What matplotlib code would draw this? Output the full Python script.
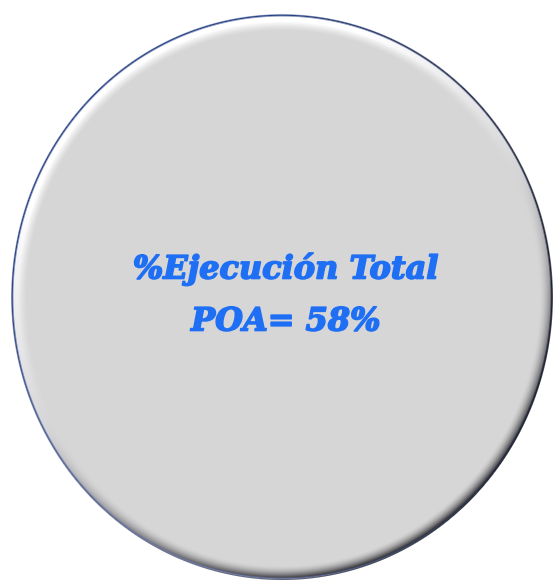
import numpy as np
import matplotlib.pyplot as plt
import matplotlib.patheffects as pe

# text shown in the badge
title_line = "%Ejecución Total"
value_label = "POA="
value_pct = 58

W, H = 553, 581
fig = plt.figure(figsize=(W / 100, H / 100), dpi=100)
ax = fig.add_axes([0, 0, 1, 1])
ax.set_xlim(0, W)
ax.set_ylim(H, 0)
ax.axis('off')

# ellipse geometry (pixels)
cx, cy, rx, ry = 282, 297, 271, 283

#build a beveled disc as an image
yy, xx = np.mgrid[0:H, 0:W] + 0.5
dx = (xx - cx) / rx
dy = (yy - cy) / ry
r = np.sqrt(dx**2 + dy**2)
d = (1 - r) * min(rx, ry)          # approx distance to edge in px

nx, ny = dx / rx, dy / ry
nn = np.sqrt(nx**2 + ny**2) + 1e-9
nx, ny = nx / nn, ny / nn
shade = (-nx * 0.45 - ny * 0.9)    # light from top, slightly left

base = 0.84
# highlight: plateau then fade; shadow: smooth falloff
f_hi = np.clip(1 - (d - 7) / 9, 0, 1) ** 1.3
f_lo = np.clip(1 - (d - 2) / 12, 0, 1) ** 1.8
val = np.where(shade > 0,
               base + f_hi * np.clip(shade * 1.4, 0, 1) * (1 - base),
               base + f_lo * shade * base * 0.8)
val = np.clip(val, 0, 1)

img = np.ones((H, W, 4))
img[..., 0] = val
img[..., 1] = val
img[..., 2] = val + f_lo * 0.02
img[..., 3] = np.clip(d + 0.5, 0, 1)

# rim: navy at top/left, near black at right, pale blue-grey at bottom
rim = np.clip(1 - np.abs(d - 1.2) / 1.7, 0, 1)
top_col = np.array([0.14, 0.24, 0.50])
right_col = np.array([0.10, 0.12, 0.18])
bot_col = np.array([0.45, 0.50, 0.66])
wr = np.clip(nx, 0, 1)[..., None]
wb = np.clip(ny, 0, 1)[..., None] * (1 - wr)
rim_col = top_col * (1 - wr - wb) + right_col * wr + bot_col * wb
for k in range(3):
    img[..., k] = img[..., k] * (1 - rim) + rim_col[..., k] * rim
img[..., :3] = np.clip(img[..., :3], 0, 1)

ax.imshow(img, extent=(0, W, H, 0), interpolation='bilinear', zorder=1)

blue = '#1f6ff5'
txt = dict(ha='center', va='center', color=blue, fontsize=23,
           family='DejaVu Serif', weight='bold', style='italic', zorder=3,
           path_effects=[pe.withStroke(linewidth=1.2, foreground=blue)])
ax.text(286, 269, title_line, **txt)
ax.text(286, 322, f"{value_label} {value_pct}%", **txt)

fig.savefig('out.png', dpi=100)
